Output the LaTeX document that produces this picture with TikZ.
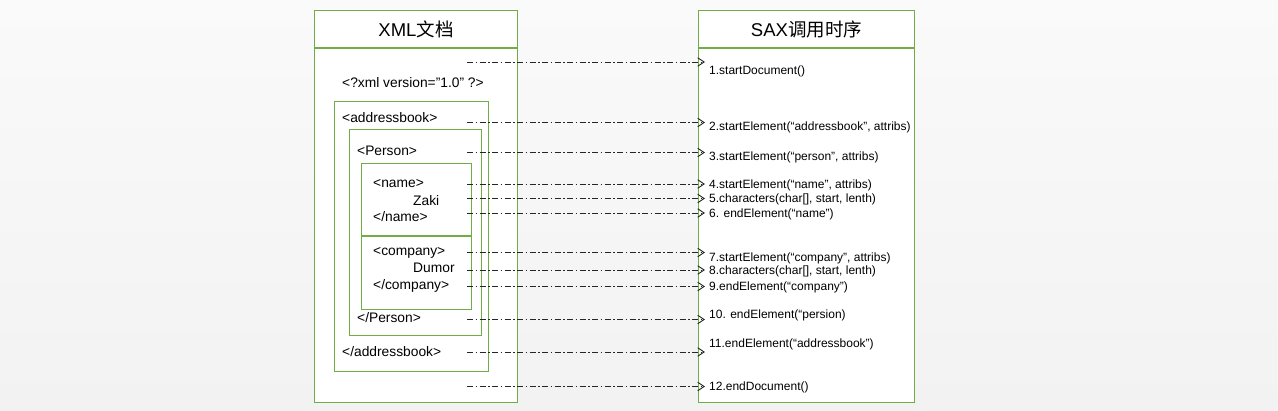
\documentclass[tikz,border=0pt]{standalone}
\usepackage{fontspec}
\setmainfont{Liberation Sans}
\newfontfamily\cjk{Noto Sans CJK SC}
\usetikzlibrary{positioning, arrows.meta}
\definecolor{boxgreen}{HTML}{70AD47}
\definecolor{bgtop}{HTML}{FAFAFA}
\definecolor{bgbottom}{HTML}{F2F2F2}
\tikzset{
	node distance=0pt,
	colbox/.style= {
		rectangle,
		draw=boxgreen,
		fill=white,
		line width=1pt,
		inner sep=0pt
	},
	headbox/.style= {
		colbox,
		font=\fontsize{18.5}{22}\selectfont,
		minimum height=37pt
	},
	tagbox/.style= {
		rectangle,
		draw=boxgreen,
		line width=1.2pt,
		inner sep=0pt,
		anchor=north west
	},
	tag/.style= {
		anchor=base west,
		inner sep=0pt,
		font=\fontsize{13.8}{16}\selectfont
	},
	call/.style= {
		anchor=base west,
		inner sep=0pt,
		font=\fontsize{12}{14}\selectfont
	},
	msg/.style= {
		black!85,
		line width=0.9pt,
		dash pattern=on 6pt off 2.5pt on 1.5pt off 2.5pt,
		-{Straight Barb[length=6.5pt, width=8.5pt]}
	}
}

\begin{document}
\begin{tikzpicture}[x=1pt, y=-1pt]
	
	\shade[top color=bgtop, bottom color=bgbottom] (0,0) rectangle (1278,410);
	\useasboundingbox (0,0) rectangle (1278,410);
	
	\node (xmlhead)[headbox, minimum width=203pt, anchor=north west] at (314,10) {XML{\cjk 文档}};
	\node (xmlbody)[colbox, minimum width=203pt, minimum height=354pt, below=0pt of xmlhead]{};
	\node (saxhead)[headbox, minimum width=216pt, right=180pt of xmlhead]{SAX{\cjk 调用时序}};
	\node (saxbody)[colbox, minimum width=216pt, minimum height=354pt, below=0pt of saxhead]{};
	
	\node (bookbox)[tagbox, minimum width=154pt, minimum height=270pt] at (334,101){};
	\node (personbox)[tagbox, minimum width=132pt, minimum height=206pt] at (349,129){};
	\node (namebox)[tagbox, minimum width=110pt, minimum height=72pt] at (361,163){};
	\node (companybox)[tagbox, minimum width=110pt, minimum height=73pt, below=0pt of namebox]{};
	
	\node (xmldecl)[tag] at (342,87) {<?xml version="1.0" ?>};
	\node (bookopen)[tag] at (342,122) {<addressbook>};
	\node (personopen)[tag] at (357,155) {<Person>};
	\node (nameopen)[tag] at (373,187.5) {<name>};
	\node (zaki)[tag] at (413,205.5) {Zaki};
	\node (nameclose)[tag] at (373,221) {</name>};
	\node (companyopen)[tag] at (373,255) {<company>};
	\node (dumor)[tag] at (413,272.5) {Dumor};
	\node (companyclose)[tag] at (373,289) {</company>};
	\node (personclose)[tag] at (357,322) {</Person>};
	\node (bookclose)[tag] at (342,356) {</addressbook>};
	
	\node (call1)[call] at (709,74) {1.startDocument()};
	\node (call2)[call] at (709,130) {2.startElement(“addressbook”, attribs)};
	\node (call3)[call] at (709,160) {3.startElement(“person”, attribs)};
	\node (call4)[call] at (709,188) {4.startElement(“name”, attribs)};
	\node (call5)[call] at (709,202.5) {5.characters(char[], start, lenth)};
	\node (call6)[call] at (709,217.5) {6. endElement(“name”)};
	\node (call7)[call] at (709,261) {7.startElement(“company”, attribs)};
	\node (call8)[call] at (709,274.5) {8.characters(char[], start, lenth)};
	\node (call9)[call] at (709,290) {9.endElement(“company”)};
	\node (call10)[call] at (709,318) {10. endElement(“persion)};
	\node (call11)[call] at (709,347) {11.endElement(“addressbook”)};
	\node (call12)[call] at (709,390) {12.endDocument()};
	
	\coordinate (tip) at (705,0);
	\coordinate (m1) at (467,62);
	\coordinate (m2) at (467,122.5);
	\coordinate (m3) at (467,152.5);
	\coordinate (m4) at (467,184);
	\coordinate (m5) at (467,198.5);
	\coordinate (m6) at (467,213);
	\coordinate (m7) at (467,252.5);
	\coordinate (m8) at (467,270);
	\coordinate (m9) at (467,286.5);
	\coordinate (m10) at (467,319.5);
	\coordinate (m11) at (467,352);
	\coordinate (m12) at (467,386.5);
	
	\draw[msg] (m1) -- (m1 -| tip);
	\draw[msg] (m2) -- (m2 -| tip);
	\draw[msg] (m3) -- (m3 -| tip);
	\draw[msg] (m4) -- (m4 -| tip);
	\draw[msg] (m5) -- (m5 -| tip);
	\draw[msg] (m6) -- (m6 -| tip);
	\draw[msg] (m7) -- (m7 -| tip);
	\draw[msg] (m8) -- (m8 -| tip);
	\draw[msg] (m9) -- (m9 -| tip);
	\draw[msg] (m10) -- (m10 -| tip);
	\draw[msg] (m11) -- (m11 -| tip);
	\draw[msg] (m12) -- (m12 -| tip);
	
\end{tikzpicture}
\end{document}
